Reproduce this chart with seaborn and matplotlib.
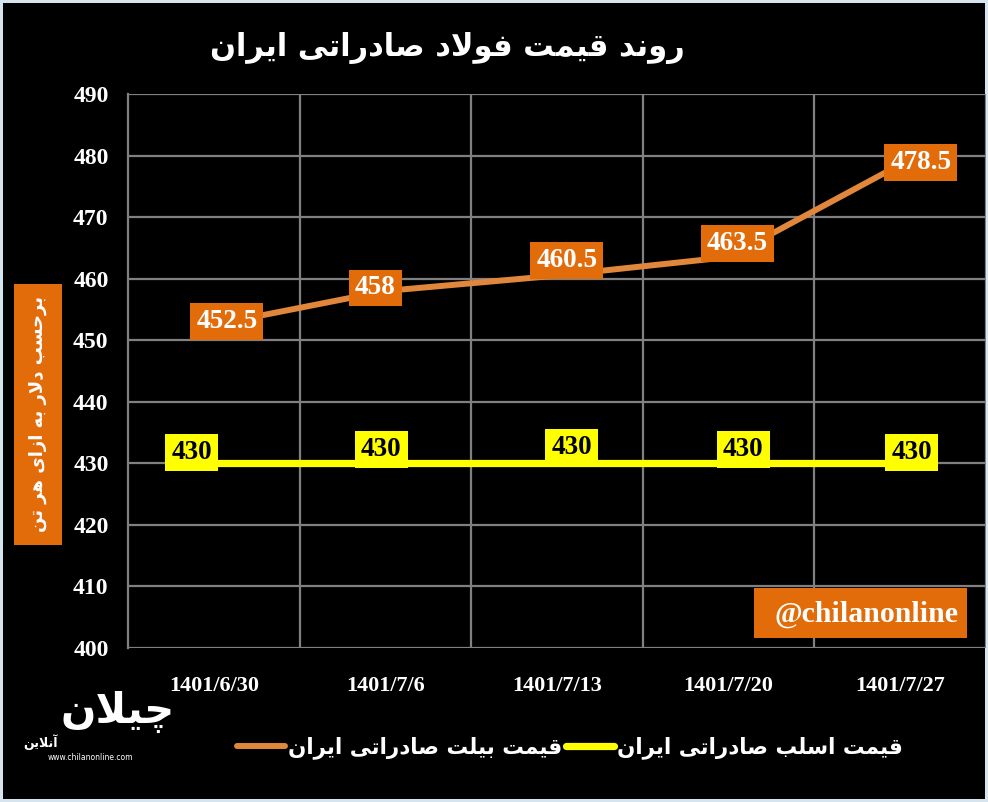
import matplotlib
matplotlib.use("Agg")
import matplotlib.pyplot as plt
import seaborn as sns
import pandas as pd
from matplotlib.patches import Rectangle

# ---------------- data ----------------
categories = ["1401/6/30", "1401/7/6", "1401/7/13", "1401/7/20", "1401/7/27"]
billet = [452.5, 458, 460.5, 463.5, 478.5]
slab = [430, 430, 430, 430, 430]
y_ticks = [400, 410, 420, 430, 440, 450, 460, 470, 480, 490]

title_text = "روند قیمت فولاد صادراتی ایران"
ylabel_text = "برحسب دلار به ازای هر تن"
billet_name = "قیمت بیلت صادراتی ایران"
slab_name = "قیمت اسلب صادراتی ایران"
watermark = "@chilanonline"
logo_text = "چیلان"
logo_sub = "آنلاین"
logo_url = "www.chilanonline.com"

# ------------- minimal Arabic/Persian shaping -------------
FORMS = {
    "\u0622": ("\uFE81", "\uFE82", None, None),
    "\u0627": ("\uFE8D", "\uFE8E", None, None),
    "\u0628": ("\uFE8F", "\uFE90", "\uFE91", "\uFE92"),
    "\u062A": ("\uFE95", "\uFE96", "\uFE97", "\uFE98"),
    "\u062D": ("\uFEA1", "\uFEA2", "\uFEA3", "\uFEA4"),
    "\u062F": ("\uFEA9", "\uFEAA", None, None),
    "\u0631": ("\uFEAD", "\uFEAE", None, None),
    "\u0632": ("\uFEAF", "\uFEB0", None, None),
    "\u0633": ("\uFEB1", "\uFEB2", "\uFEB3", "\uFEB4"),
    "\u0635": ("\uFEB9", "\uFEBA", "\uFEBB", "\uFEBC"),
    "\u0641": ("\uFED1", "\uFED2", "\uFED3", "\uFED4"),
    "\u0642": ("\uFED5", "\uFED6", "\uFED7", "\uFED8"),
    "\u0644": ("\uFEDD", "\uFEDE", "\uFEDF", "\uFEE0"),
    "\u0645": ("\uFEE1", "\uFEE2", "\uFEE3", "\uFEE4"),
    "\u0646": ("\uFEE5", "\uFEE6", "\uFEE7", "\uFEE8"),
    "\u0647": ("\uFEE9", "\uFEEA", "\uFEEB", "\uFEEC"),
    "\u0648": ("\uFEED", "\uFEEE", None, None),
    "\u06CC": ("\uFBFC", "\uFBFD", "\uFBFE", "\uFBFF"),
    "\u0686": ("\uFB7A", "\uFB7B", "\uFB7C", "\uFB7D"),
}


def _dual(c):
    return c in FORMS and FORMS[c][2] is not None


def shape(text):
    out = []
    n = len(text)
    i = 0
    while i < n:
        c = text[i]
        prev = text[i - 1] if i > 0 else None
        if c not in FORMS:
            out.append(c)
            i += 1
            continue
        cp = prev is not None and _dual(prev)
        if c == "\u0644" and i + 1 < n and text[i + 1] == "\u0627":
            out.append("\uFEFC" if cp else "\uFEFB")
            i += 2
            continue
        nxt = text[i + 1] if i + 1 < n else None
        cn = _dual(c) and nxt is not None and nxt in FORMS
        iso, fin, ini, med = FORMS[c]
        if cp and cn:
            g = med
        elif cp:
            g = fin
        elif cn:
            g = ini
        else:
            g = iso
        out.append(g)
        i += 1
    return "".join(reversed(out))


# ---------------- styles ----------------
ORANGE_LINE = "#E0873C"
ORANGE_BOX = "#E36C0A"
YELLOW = "#FFFF00"
GRID = "#808080"
SERIF = ["Liberation Serif", "DejaVu Serif"]
ARAB = ["DejaVu Sans"]

W, H = 988, 802
sns.set_theme(style="dark")
plt.rcParams["font.family"] = SERIF

fig = plt.figure(figsize=(W / 100, H / 100), dpi=100, facecolor="black",
                 edgecolor="#d6e4f0", linewidth=3)
ax = fig.add_axes([128 / W, 1 - 648 / H, (985.5 - 128) / W, (648 - 94) / H])
ax.set_facecolor("black")

df_b = pd.DataFrame({"date": categories, "price": billet})
df_s = pd.DataFrame({"date": categories, "price": slab})

sns.lineplot(data=df_s, x="date", y="price", sort=False, color=YELLOW,
             linewidth=5.2, ax=ax, zorder=3)
sns.lineplot(data=df_b, x="date", y="price", sort=False, color=ORANGE_LINE,
             linewidth=4.3, ax=ax, zorder=3)

ax.set_xlim(-0.5, len(categories) - 0.5)
ax.set_ylim(min(y_ticks), max(y_ticks))
ax.set_yticks(y_ticks)
ax.set_xticks(range(len(categories)))
ax.set_xticklabels(categories)
ax.set_xticks([i + 0.5 for i in range(len(categories))], minor=True)
ax.set_xlabel("")
ax.set_ylabel("")

ax.grid(False)
ax.yaxis.grid(True, color=GRID, linewidth=1.6)
ax.xaxis.grid(True, which="minor", color=GRID, linewidth=1.6)
ax.set_axisbelow(True)
for s in ["top", "right", "bottom"]:
    ax.spines[s].set_visible(False)
ax.spines["left"].set_color(GRID)
ax.spines["left"].set_linewidth(1.6)

ax.tick_params(axis="both", which="both", length=0)
ax.tick_params(axis="y", pad=14, labelcolor="white", labelsize=17)
ax.tick_params(axis="x", pad=20, labelcolor="white", labelsize=16)
for lab in ax.get_yticklabels() + ax.get_xticklabels():
    lab.set_fontweight("bold")
    lab.set_family(SERIF)

# data labels (offsets in pixels)
billet_off = [(13, 3), (-10, 3), (10, 15), (9, 14), (21, 2)]
slab_off = [(-22, 11), (-4, 14), (15, 16), (15, 14), (12, 11)]
for i, v in enumerate(billet):
    ax.annotate(f"{v:g}", (i, v), xytext=billet_off[i], textcoords="offset pixels",
                ha="center", va="center", color="white", fontsize=19.5,
                fontweight="bold", family=SERIF, zorder=5,
                bbox=dict(boxstyle="square,pad=0.22", fc=ORANGE_BOX, ec="none"))
for i, v in enumerate(slab):
    ax.annotate(f"{v:g}", (i, v), xytext=slab_off[i], textcoords="offset pixels",
                ha="center", va="center", color="black", fontsize=19.5,
                fontweight="bold", family=SERIF, zorder=5,
                bbox=dict(boxstyle="square,pad=0.22", fc=YELLOW, ec="none"))

# title
fig.text(447 / W, 1 - 48 / H, shape(title_text), ha="center", va="center",
         color="white", fontsize=22, fontweight="bold", family=ARAB)

# y-axis label box
fig.patches.append(Rectangle((14 / W, 1 - 545 / H), 48 / W, 261 / H,
                             transform=fig.transFigure, fc=ORANGE_BOX, ec="none",
                             zorder=1))
fig.text(38 / W, 1 - 414 / H, shape(ylabel_text), ha="center", va="center",
         rotation=90, color="white", fontsize=13, fontweight="bold",
         family=ARAB, zorder=2)

# watermark box
wm_box = Rectangle((754 / W, 1 - 638 / H), 213 / W, 50 / H,
                   transform=fig.transFigure, fc=ORANGE_BOX, ec="none", zorder=10)
fig.add_artist(wm_box)
fig.text(866 / W, 1 - 614 / H, watermark, ha="center", va="center",
         color="white", fontsize=21.5, fontweight="bold", family=SERIF, zorder=11)

# legend
h1 = plt.Line2D([], [], color=ORANGE_LINE, linewidth=4.3)
h2 = plt.Line2D([], [], color=YELLOW, linewidth=5.2)
leg = fig.legend([h1, h2], [shape(billet_name), shape(slab_name)],
                 loc="center", bbox_to_anchor=(570 / W, 1 - 748 / H), ncol=2,
                 frameon=False, handlelength=2.2, handletextpad=0.15,
                 columnspacing=0.2,
                 prop={"family": ARAB, "size": 15.5, "weight": "bold"})
for t in leg.get_texts():
    t.set_color("white")

# logo (approximation)
fig.text(118 / W, 1 - 712 / H, shape(logo_text), ha="center", va="center",
         color="white", fontsize=30, fontweight="bold", family=ARAB)
fig.text(40 / W, 1 - 742 / H, shape(logo_sub), ha="center", va="center",
         color="white", fontsize=9, fontweight="bold", family=ARAB)
fig.text(90 / W, 1 - 757 / H, logo_url, ha="center", va="center",
         color="white", fontsize=5.5, family=["DejaVu Sans"])

fig.savefig("out.png", dpi=100, facecolor="black", edgecolor="#d6e4f0")
